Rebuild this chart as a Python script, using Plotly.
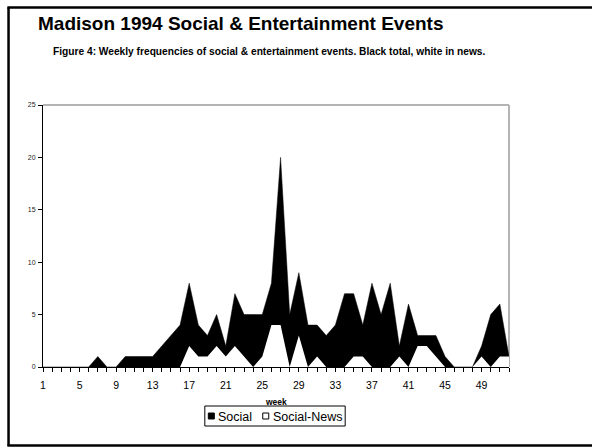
import plotly.graph_objects as go

weeks = list(range(1, 53))
social = [0, 0, 0, 0, 0, 0, 1, 0, 0, 1, 1, 1, 1, 2, 3, 4, 8, 4, 3, 5,
          2, 7, 5, 5, 5, 8, 20, 5, 9, 4, 4, 3, 4, 7, 7, 4, 8, 5, 8, 2,
          6, 3, 3, 3, 1, 0, 0, 0, 2, 5, 6, 1]
social_news = [0, 0, 0, 0, 0, 0, 0, 0, 0, 0, 0, 0, 0, 0, 0, 0, 2, 1, 1, 2,
               1, 2, 1, 0, 1, 4, 4, 0, 3, 0, 1, 0, 0, 0, 1, 1, 0, 0, 0, 1,
               0, 2, 2, 1, 0, 0, 0, 0, 1, 0, 1, 1]
x_tick_labels = {w: str(w) for w in range(1, 53, 4)}
y_ticks = [0, 5, 10, 15, 20, 25]

W, H = 592, 447
L, R, T, B = 42.5, 509, 105, 367
pw, ph = R - L, B - T


def px(x):
    return (x - L) / pw


def py(y):
    return (B - y) / ph


FONT = "Arial, Liberation Sans, sans-serif"

fig = go.Figure()
fig.add_trace(go.Scatter(x=weeks, y=social, name="Social", mode="lines",
                         fill="tozeroy", fillcolor="black",
                         line=dict(color="black", width=0.5), showlegend=False))
fig.add_trace(go.Scatter(x=weeks, y=social_news, name="Social-News", mode="lines",
                         fill="tozeroy", fillcolor="white",
                         line=dict(color="white", width=0), showlegend=False))

shapes = []
# plot area border (gray top/right)
shapes.append(dict(type="line", xref="paper", yref="paper", x0=0, x1=1, y0=1, y1=1,
                   line=dict(color="#b4b4b4", width=2), layer="below"))
shapes.append(dict(type="line", xref="paper", yref="paper", x0=1, x1=1, y0=0, y1=1,
                   line=dict(color="#b4b4b4", width=2), layer="below"))
# outer frame
shapes.append(dict(type="line", xref="paper", yref="paper", x0=px(8), x1=px(8),
                   y0=py(7.5), y1=py(445.5), line=dict(color="black", width=2.5)))
shapes.append(dict(type="line", xref="paper", yref="paper", x0=px(6.8), x1=px(600),
                   y0=py(7.5), y1=py(7.5), line=dict(color="black", width=2.5)))
shapes.append(dict(type="line", xref="paper", yref="paper", x0=px(6.8), x1=px(600),
                   y0=py(445.5), y1=py(445.5), line=dict(color="black", width=2.5)))
# legend box
shapes.append(dict(type="rect", xref="paper", yref="paper", x0=px(204.5), x1=px(345),
                   y0=py(406), y1=py(426), line=dict(color="black", width=1),
                   fillcolor="white"))
shapes.append(dict(type="rect", xref="paper", yref="paper", x0=px(208), x1=px(214),
                   y0=py(413), y1=py(419), line=dict(color="black", width=1),
                   fillcolor="black"))
shapes.append(dict(type="rect", xref="paper", yref="paper", x0=px(262.5), x1=px(268.5),
                   y0=py(413), y1=py(419), line=dict(color="black", width=1),
                   fillcolor="white"))

annotations = [
    dict(text="<b>Madison 1994 Social & Entertainment Events</b>", xref="paper", yref="paper",
         x=px(35), y=py(23), xanchor="left", yanchor="middle", showarrow=False,
         font=dict(family=FONT, size=19, color="black")),
    dict(text="<b>Figure 4: Weekly frequencies of social & entertainment events. Black total, white in news.</b>",
         xref="paper", yref="paper", x=px(51), y=py(51), xanchor="left", yanchor="middle",
         showarrow=False, font=dict(family=FONT, size=10.2, color="black")),
    dict(text="<b>week</b>", xref="paper", yref="paper", x=px(275.5), y=py(402),
         xanchor="center", yanchor="middle", showarrow=False,
         font=dict(family=FONT, size=8.5, color="black")),
    dict(text="Social", xref="paper", yref="paper", x=px(216), y=py(416.5),
         xanchor="left", yanchor="middle", showarrow=False,
         font=dict(family=FONT, size=12.5, color="black")),
    dict(text="Social-News", xref="paper", yref="paper", x=px(271), y=py(416.5),
         xanchor="left", yanchor="middle", showarrow=False,
         font=dict(family=FONT, size=12.5, color="black")),
]

fig.update_layout(
    width=W, height=H,
    margin=dict(l=L, r=W - R, t=T, b=H - B, pad=0),
    paper_bgcolor="white", plot_bgcolor="white",
    showlegend=False,
    shapes=shapes, annotations=annotations,
    xaxis=dict(range=[1, 52], tickmode="array", tickvals=weeks,
               ticktext=[x_tick_labels.get(w, "") for w in weeks],
               ticks="outside", ticklen=4, tickwidth=1, tickcolor="black",
               showline=True, linecolor="black", linewidth=1, showgrid=False,
               zeroline=False, ticklabelstandoff=4,
               tickfont=dict(family=FONT, size=10.5, color="black")),
    yaxis=dict(range=[0, 25], tickmode="array", tickvals=y_ticks,
               ticks="outside", ticklen=4, tickwidth=1, tickcolor="black",
               showline=True, linecolor="black", linewidth=1, showgrid=False,
               zeroline=False, ticklabelstandoff=1,
               tickfont=dict(family=FONT, size=7, color="#222")),
)

fig.write_html("out.html")
